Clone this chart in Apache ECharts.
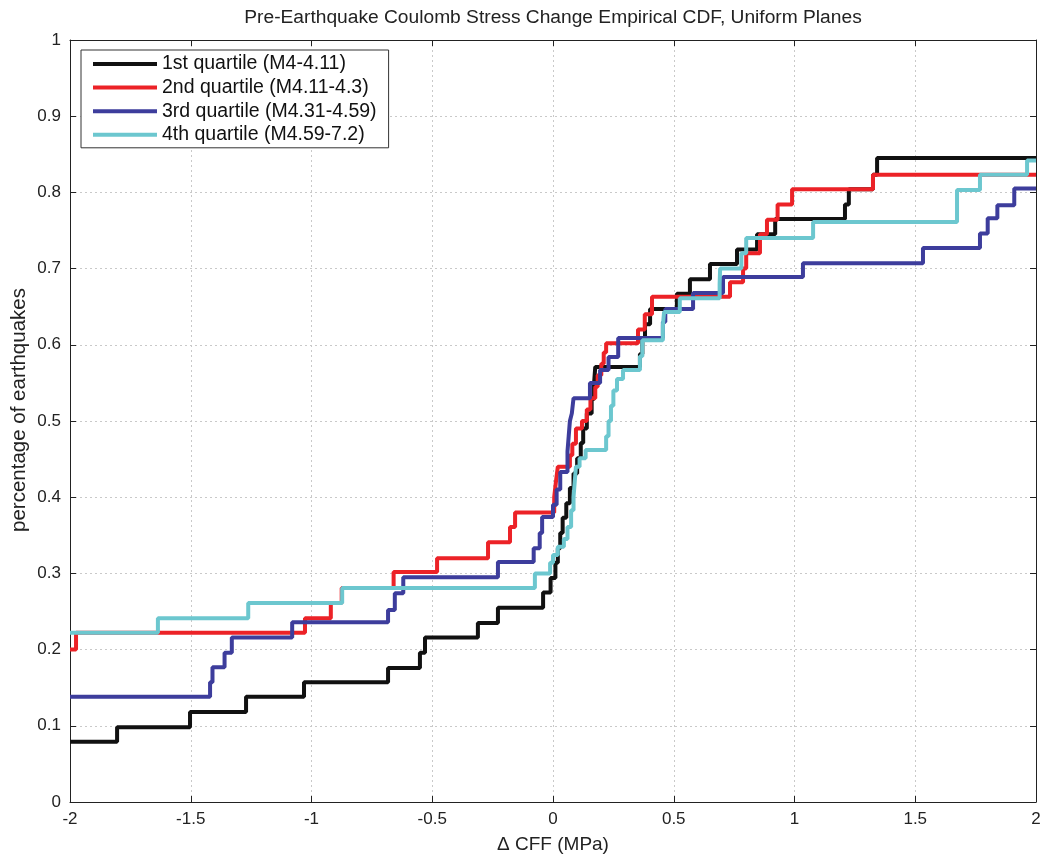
<!DOCTYPE html>
<html>
<head>
<meta charset="utf-8">
<script src="https://cdn.jsdelivr.net/npm/echarts@6/dist/echarts.min.js"></script>
<style>
html,body{margin:0;padding:0;background:#fff;}
#chart{width:1045px;height:859px;}
</style>
</head>
<body>
<div id="chart"></div>
<script>
// ---- data ----
const seriesNames = ['1st quartile (M4-4.11)', '2nd quartile (M4.11-4.3)', '3rd quartile (M4.31-4.59)', '4th quartile (M4.59-7.2)'];

const q1X = [-2, -1.805, -1.503, -1.271, -1.031, -0.683, -0.551, -0.530, -0.311, -0.228, -0.041, -0.01, 0.01, 0.02, 0.03, 0.04, 0.055, 0.07, 0.085, 0.10, 0.115, 0.125, 0.14, 0.16, 0.17, 0.175, 0.36, 0.37, 0.381, 0.402, 0.513, 0.567, 0.65, 0.762, 0.845, 0.92, 1.209, 1.225, 1.325, 1.342];
const q1Y = [0.079, 0.098, 0.118, 0.138, 0.157, 0.176, 0.196, 0.216, 0.235, 0.255, 0.275, 0.294, 0.314, 0.333, 0.353, 0.373, 0.392, 0.412, 0.431, 0.451, 0.471, 0.490, 0.510, 0.529, 0.549, 0.571, 0.588, 0.608, 0.627, 0.647, 0.667, 0.686, 0.706, 0.725, 0.745, 0.765, 0.784, 0.804, 0.823, 0.845];

const q2X = [-2, -1.975, -1.027, -0.92, -0.875, -0.66, -0.48, -0.269, -0.178, -0.157, 0.005, 0.012, 0.02, 0.07, 0.08, 0.095, 0.12, 0.14, 0.155, 0.175, 0.185, 0.2, 0.21, 0.22, 0.352, 0.38, 0.41, 0.733, 0.787, 0.80, 0.857, 0.886, 0.93, 0.99, 1.325];
const q2Y = [0.200, 0.222, 0.241, 0.261, 0.281, 0.302, 0.320, 0.341, 0.361, 0.380, 0.400, 0.420, 0.440, 0.455, 0.470, 0.490, 0.500, 0.515, 0.530, 0.545, 0.560, 0.575, 0.590, 0.602, 0.620, 0.640, 0.663, 0.682, 0.700, 0.720, 0.745, 0.764, 0.784, 0.804, 0.823];

const q3X = [-2, -1.42, -1.41, -1.36, -1.33, -1.08, -0.683, -0.655, -0.62, -0.228, -0.08, -0.055, -0.045, 0.0, 0.015, 0.03, 0.06, 0.065, 0.07, 0.078, 0.085, 0.153, 0.195, 0.23, 0.27, 0.455, 0.465, 0.58, 0.704, 1.035, 1.532, 1.768, 1.80, 1.84, 1.91];
const q3Y = [0.138, 0.157, 0.177, 0.196, 0.216, 0.236, 0.252, 0.274, 0.295, 0.315, 0.333, 0.353, 0.374, 0.390, 0.410, 0.433, 0.460, 0.480, 0.500, 0.510, 0.530, 0.550, 0.567, 0.584, 0.609, 0.630, 0.647, 0.668, 0.689, 0.707, 0.727, 0.746, 0.766, 0.783, 0.805];

const q4X = [-2, -1.636, -1.262, -0.873, -0.075, -0.012, 0.0, 0.02, 0.045, 0.06, 0.075, 0.085, 0.09, 0.095, 0.11, 0.135, 0.22, 0.23, 0.24, 0.25, 0.265, 0.29, 0.36, 0.37, 0.455, 0.46, 0.525, 0.69, 0.692, 0.78, 0.80, 1.077, 1.673, 1.768, 1.963];
const q4Y = [0.222, 0.241, 0.261, 0.281, 0.300, 0.314, 0.324, 0.335, 0.345, 0.361, 0.383, 0.400, 0.420, 0.440, 0.451, 0.462, 0.480, 0.500, 0.520, 0.540, 0.555, 0.567, 0.585, 0.606, 0.625, 0.643, 0.661, 0.680, 0.700, 0.720, 0.740, 0.761, 0.803, 0.823, 0.842];

const xTickLabels = ['-2', '-1.5', '-1', '-0.5', '0', '0.5', '1', '1.5', '2'];
const yTickLabels = ['0', '0.1', '0.2', '0.3', '0.4', '0.5', '0.6', '0.7', '0.8', '0.9', '1'];

const titleText = 'Pre-Earthquake Coulomb Stress Change Empirical CDF, Uniform Planes';
const xLabelText = '\u0394 CFF (MPa)';
const yLabelText = 'percentage of earthquakes';

// ---- build ----
const colors = ['#111111', '#ec2227', '#3d3d9c', '#6cc7cf'];
const X_MIN = -2, X_MAX = 2;
function mk(xs, ys) {
  const d = xs.map((x, i) => [x, ys[i]]);
  d.push([X_MAX, ys[ys.length - 1]]);
  return d;
}
const allData = [mk(q1X, q1Y), mk(q2X, q2Y), mk(q3X, q3Y), mk(q4X, q4Y)];

const FONT = "'Liberation Sans', Arial, Helvetica, sans-serif";
const gridL = 70, gridR = 9, gridT = 40, gridB = 57;

const chart = echarts.init(document.getElementById('chart'), null, {renderer: 'canvas'});

const baseAxisLine = {show: true, onZero: false, lineStyle: {color: '#222', width: 1}};
const tick = {show: true, inside: true, length: 6, lineStyle: {color: '#222', width: 1}};

chart.setOption({
  animation: false,
  backgroundColor: '#ffffff',
  grid: {left: gridL, right: gridR, top: gridT, bottom: gridB, containLabel: false},
  xAxis: [{
    type: 'value', min: X_MIN, max: X_MAX, interval: 0.5,
    axisLine: baseAxisLine, axisTick: tick,
    axisLabel: {color: '#222', fontFamily: FONT, fontSize: 17, margin: 9,
      formatter: v => xTickLabels[Math.round((v - X_MIN) * 2)]},
    splitLine: {show: true, lineStyle: {color: '#c9c9c9', type: [2, 3], width: 1}}
  }, {
    type: 'value', position: 'top', min: X_MIN, max: X_MAX, interval: 0.5,
    axisLine: baseAxisLine, axisTick: tick, axisLabel: {show: false}, splitLine: {show: false}
  }],
  yAxis: [{
    type: 'value', min: 0, max: 1, interval: 0.1,
    axisLine: baseAxisLine, axisTick: tick,
    axisLabel: {color: '#222', fontFamily: FONT, fontSize: 17, margin: 9,
      formatter: v => yTickLabels[Math.round(v * 10)]},
    splitLine: {show: true, lineStyle: {color: '#c9c9c9', type: [2, 3], width: 1}}
  }, {
    type: 'value', position: 'right', min: 0, max: 1, interval: 0.1,
    axisLine: baseAxisLine, axisTick: tick, axisLabel: {show: false}, splitLine: {show: false}
  }],
  legend: {
    orient: 'vertical', left: 81, top: 50,
    data: seriesNames,
    icon: 'rect', itemWidth: 64, itemHeight: 4, itemGap: 3.6,
    padding: [4, 12, 3, 12],
    backgroundColor: '#ffffff', borderColor: '#333', borderWidth: 1, borderRadius: 0,
    textStyle: {color: '#111', fontFamily: FONT, fontSize: 19.5, lineHeight: 18, padding: [0, 0, 0, 0]},
    itemStyle: {borderWidth: 0}
  },
  graphic: [
    {type: 'text', x: 553, y: 18, style: {text: titleText, fill: '#222', font: '19.2px ' + FONT, textAlign: 'center', textVerticalAlign: 'middle'}},
    {type: 'text', x: 553, y: 845, style: {text: xLabelText, fill: '#222', font: '19px ' + FONT, textAlign: 'center', textVerticalAlign: 'middle'}},
    {type: 'text', x: 19, y: 410, rotation: Math.PI / 2, style: {text: yLabelText, fill: '#222', font: '20.5px ' + FONT, textAlign: 'center', textVerticalAlign: 'middle'}}
  ],
  series: allData.map((d, i) => ({
    name: seriesNames[i], type: 'line', step: 'end', data: d,
    showSymbol: false, symbol: 'none',
    xAxisIndex: 0, yAxisIndex: 0,
    lineStyle: {color: colors[i], width: 4},
    itemStyle: {color: colors[i]},
    emphasis: {disabled: true},
    z: 2 + i
  }))
});
</script>
</body>
</html>
